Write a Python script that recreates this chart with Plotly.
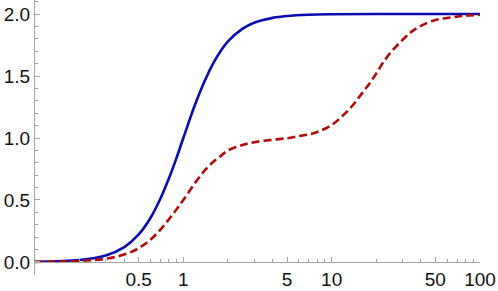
import plotly.graph_objects as go

# Blue (solid) curve
blue_x = [0.1, 0.2, 0.3, 0.4, 0.5, 0.6, 0.7, 0.8, 0.9, 1.0, 1.2, 1.4, 1.6, 1.8, 2.0, 2.5, 3.0, 4.0, 5.0, 7.0, 10.0, 20.0, 100.0]
blue_y = [0.002, 0.016, 0.052, 0.12, 0.222, 0.355, 0.51, 0.675, 0.84, 1.0, 1.27, 1.466, 1.608, 1.708, 1.78, 1.88, 1.93, 1.969, 1.984, 1.994, 1.998, 2.0, 2.0]

# Red (dashed) curve
red_x = [0.1, 0.2, 0.3, 0.4, 0.5, 0.6, 0.7, 0.8, 0.9, 1.0, 1.2, 1.4, 1.6, 1.8, 2.0, 2.5, 3.0, 4.0, 5.0, 6.0, 7.0, 8.0,
         10.0, 12.0, 14.0, 16.0, 18.0, 20.0, 22.0, 25.0, 30.0, 35.0, 40.0, 50.0, 60.0, 70.0, 80.0, 100.0]
red_y = [0.001, 0.008, 0.026, 0.06, 0.111, 0.18, 0.26, 0.345, 0.425, 0.5, 0.638, 0.74, 0.81, 0.858, 0.9, 0.943, 0.966,
         0.986, 0.998, 1.015, 1.028, 1.048, 1.105, 1.185, 1.27, 1.36, 1.44, 1.52, 1.6, 1.69, 1.79, 1.862, 1.905, 1.952,
         1.968, 1.979, 1.986, 1.994]

x_major = [0.5, 1, 5, 10, 50, 100]
x_labels = ["0.5", "1", "5", "10", "50", "100"]
x_minor = [0.2, 0.3, 0.4, 0.6, 0.7, 0.8, 0.9, 2, 3, 4, 6, 7, 8, 9, 20, 30, 40, 60, 70, 80, 90]
y_major = [0.0, 0.5, 1.0, 1.5, 2.0]
y_labels = ["0.0", "0.5", "1.0", "1.5", "2.0"]
y_minor = [-0.1, 0.1, 0.2, 0.3, 0.4, 0.6, 0.7, 0.8, 0.9, 1.1, 1.2, 1.3, 1.4, 1.6, 1.7, 1.8, 1.9, 2.1]

y_lo, y_hi = -0.105, 2.113
axis_col = "#a6a6a6"
tick_font = dict(family="Liberation Sans, Arial, sans-serif", size=19, color="#111111")

fig = go.Figure()
fig.add_trace(go.Scatter(x=blue_x, y=blue_y, mode="lines",
                         line=dict(color="#0b0bb0", width=2.6, shape="spline", smoothing=1.0),
                         showlegend=False))
fig.add_trace(go.Scatter(x=red_x, y=red_y, mode="lines",
                         line=dict(color="#b00c0c", width=2.6, dash="8px,4px", shape="spline", smoothing=1.0),
                         showlegend=False))

fig.update_layout(
    width=498, height=291,
    margin=dict(l=35, r=18, t=0, b=16, autoexpand=False),
    paper_bgcolor="white", plot_bgcolor="white",
    font=tick_font,
    xaxis=dict(type="log", range=[-1, 2], anchor="free", position=(0 - y_lo) / (y_hi - y_lo),
               automargin=False,
               showline=True, linecolor=axis_col, linewidth=1.2,
               showgrid=False, zeroline=False,
               tickmode="array", tickvals=x_major, ticktext=x_labels, tickfont=tick_font,
               ticks="inside", ticklen=5, tickcolor=axis_col, tickwidth=1,
               minor=dict(tickmode="array", tickvals=x_minor, ticks="inside", ticklen=3,
                          tickcolor=axis_col, tickwidth=1, showgrid=False)),
    yaxis=dict(range=[y_lo, y_hi], automargin=False,
               showline=True, linecolor=axis_col, linewidth=1.2,
               showgrid=False, zeroline=False,
               tickmode="array", tickvals=y_major, ticktext=y_labels, tickfont=tick_font,
               ticks="inside", ticklen=5, tickcolor=axis_col, tickwidth=1,
               minor=dict(tickmode="array", tickvals=y_minor, ticks="inside", ticklen=3,
                          tickcolor=axis_col, tickwidth=1, showgrid=False)),
)

fig.write_html("out.html", config={"displayModeBar": False},
               post_script="document.body.style.margin='0';document.body.style.padding='0';")
